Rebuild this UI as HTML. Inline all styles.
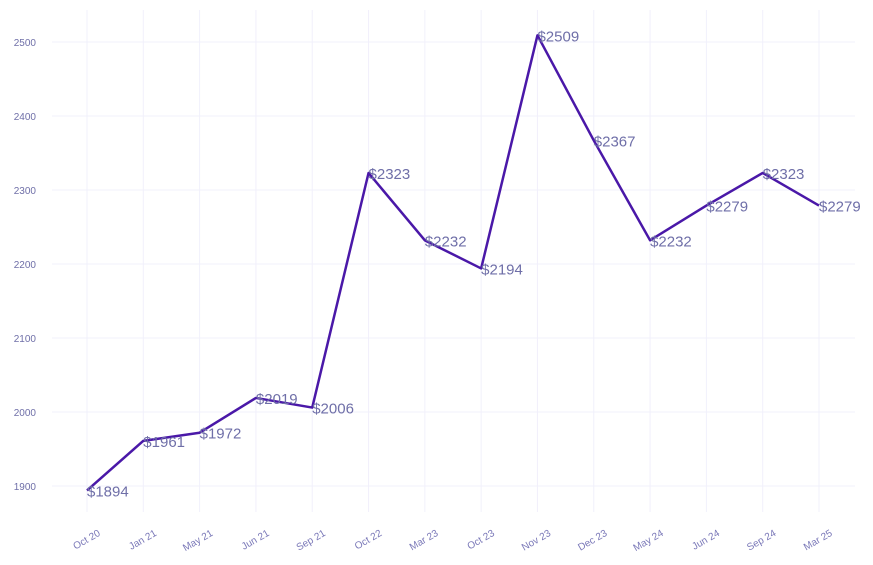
<!DOCTYPE html>
<html><head><meta charset="utf-8"><style>
body{margin:0;background:#fff;}
svg{display:block;font-family:"Liberation Sans",sans-serif;}
</style></head><body>
<svg id="chart" width="873" height="565" viewBox="0 0 873 565"></svg>
<script>
const categories=["Oct 20","Jan 21","May 21","Jun 21","Sep 21","Oct 22","Mar 23","Oct 23","Nov 23","Dec 23","May 24","Jun 24","Sep 24","Mar 25"];
const values=[1894,1961,1972,2019,2006,2323,2232,2194,2509,2367,2232,2279,2323,2279];
const yTicks=[1900,2000,2100,2200,2300,2400,2500];
const NS="http://www.w3.org/2000/svg";
const svg=document.getElementById('chart');
function x(i){return 87+i*(819-87)/(categories.length-1);}
function y(v){return 486-(v-1900)*0.74;}
function mk(t,a,p){const e=document.createElementNS(NS,t);for(const k in a)e.setAttribute(k,a[k]);(p||svg).appendChild(e);return e;}
const grid=mk('g',{});


yTicks.forEach(v=>{
  const l=mk('line',{x1:52,x2:855,y1:y(v),y2:y(v),stroke:'#f1f0fb','stroke-width':1},grid);
  
  
  const t=mk('text',{x:36,y:y(v)+4,'text-anchor':'end','font-size':10,fill:'#6f6fa8'});
  t.textContent=v;
  
  
});
categories.forEach((c,i)=>{
  const l=mk('line',{x1:x(i),x2:x(i),y1:10,y2:512,stroke:'#f1f0fb','stroke-width':1},grid);
  
  
  const t=mk('text',{x:x(i)+14,y:535,'text-anchor':'end','font-size':10,fill:'#7a78b8',transform:`rotate(-30 ${x(i)+14} 535)`});
  t.textContent=c;
  
  
});
const line=mk('polyline',{points:values.map((v,i)=>x(i)+','+y(v)).join(' '),fill:'none',stroke:'#4a18a8','stroke-width':2.5,'stroke-linejoin':'round'});


values.forEach((v,i)=>{
  const t=mk('text',{x:x(i),y:y(v)+6,'font-size':15,fill:'#6f6fa8'});
  t.textContent='$'+v;
  
  
});
</script>
</body></html>
